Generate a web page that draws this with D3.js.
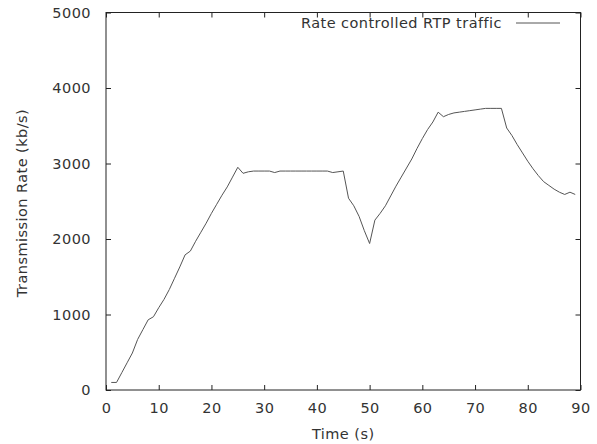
<!DOCTYPE html>
<html><head><meta charset="utf-8">
<script src="https://cdn.jsdelivr.net/npm/d3@7"></script>
<style>
body{margin:0;background:#fff;}
text{font-family:"DejaVu Sans",sans-serif;fill:#333;letter-spacing:0.45px;}
</style></head>
<body>
<svg id="c" width="597" height="444"></svg>
<script>
const times = [1,2,3,4,5,6,7,8,9,10,11,12,13,14,15,16,17,18,19,20,21,22,23,24,25,26,27,28,29,30,31,32,33,34,35,36,37,38,39,40,41,42,43,44,45,46,47,48,49,50,51,52,53,54,55,56,57,58,59,60,61,62,63,64,65,66,67,68,69,70,71,72,73,74,75,76,77,78,79,80,81,82,83,84,85,86,87,88,89];
const rates = [100,100,230,360,490,670,800,930,970,1090,1200,1330,1480,1630,1790,1840,1970,2090,2210,2340,2460,2580,2690,2820,2950,2870,2890,2900,2900,2900,2900,2880,2900,2900,2900,2900,2900,2900,2900,2900,2900,2900,2880,2890,2900,2540,2440,2300,2110,1940,2250,2340,2440,2570,2700,2820,2940,3060,3200,3330,3450,3550,3680,3620,3650,3670,3680,3690,3700,3710,3720,3730,3730,3730,3730,3470,3370,3250,3140,3030,2930,2840,2760,2710,2660,2620,2590,2620,2590];
const xTicks = [0,10,20,30,40,50,60,70,80,90];
const yTicks = [0,1000,2000,3000,4000,5000];
const seriesName = "Rate controlled RTP traffic";
const xTitle = "Time (s)";
const yTitle = "Transmission Rate (kb/s)";

const svg = d3.select("#c");
const L=106, R=580.5, T=12.5, B=390;
const x = d3.scaleLinear().domain([0,90]).range([L,R]);
const y = d3.scaleLinear().domain([0,5000]).range([B,T]);
const fs = 14.5;
const tl = 5;

const gx = svg.append("g").attr("transform",`translate(0,${B})`)
  .call(d3.axisBottom(x).tickValues(xTicks).tickSize(-tl).tickFormat(d3.format("d")));
const gt = svg.append("g").attr("transform",`translate(0,${T})`)
  .call(d3.axisTop(x).tickValues(xTicks).tickSize(-tl).tickFormat(""));
const gy = svg.append("g").attr("transform",`translate(${L},0)`)
  .call(d3.axisLeft(y).tickValues(yTicks).tickSize(-tl).tickFormat(d3.format("d")));
const gr = svg.append("g").attr("transform",`translate(${R},0)`)
  .call(d3.axisRight(y).tickValues(yTicks).tickSize(-tl).tickFormat(""));

[gx,gt,gy,gr].forEach(g=>{
  g.select(".domain").remove();
  g.selectAll(".tick line").attr("stroke","#222").attr("stroke-width",1);
  g.selectAll("text").attr("font-size",fs).attr("font-family","DejaVu Sans, sans-serif").attr("fill","#333");
});
gx.selectAll("text").attr("dy","0.35em").attr("y",18);
gy.selectAll("text").attr("x",-15);

svg.append("rect").attr("x",L).attr("y",T).attr("width",R-L).attr("height",B-T)
  .attr("fill","none").attr("stroke","#222").attr("stroke-width",1);

const data = times.map((t,i)=>({t, v:rates[i]}));
const line = d3.line().x(d=>x(d.t)).y(d=>y(d.v));
svg.append("path").datum(data).attr("d",line).attr("fill","none")
  .attr("stroke","#555").attr("stroke-width",1);

svg.append("text").attr("x",502).attr("y",23).attr("dy","0.35em").attr("text-anchor","end")
  .attr("font-size",fs).text(seriesName);
svg.append("line").attr("x1",516).attr("x2",560).attr("y1",23).attr("y2",23)
  .attr("stroke","#555").attr("stroke-width",1);

svg.append("text").attr("x",(L+R)/2).attr("y",434).attr("dy","0.35em").attr("text-anchor","middle")
  .attr("font-size",fs).text(xTitle);
svg.append("text").attr("transform","translate(22,203) rotate(-90)").attr("dy","0.35em")
  .attr("text-anchor","middle").attr("font-size",fs).text(yTitle);
</script>
</body></html>
